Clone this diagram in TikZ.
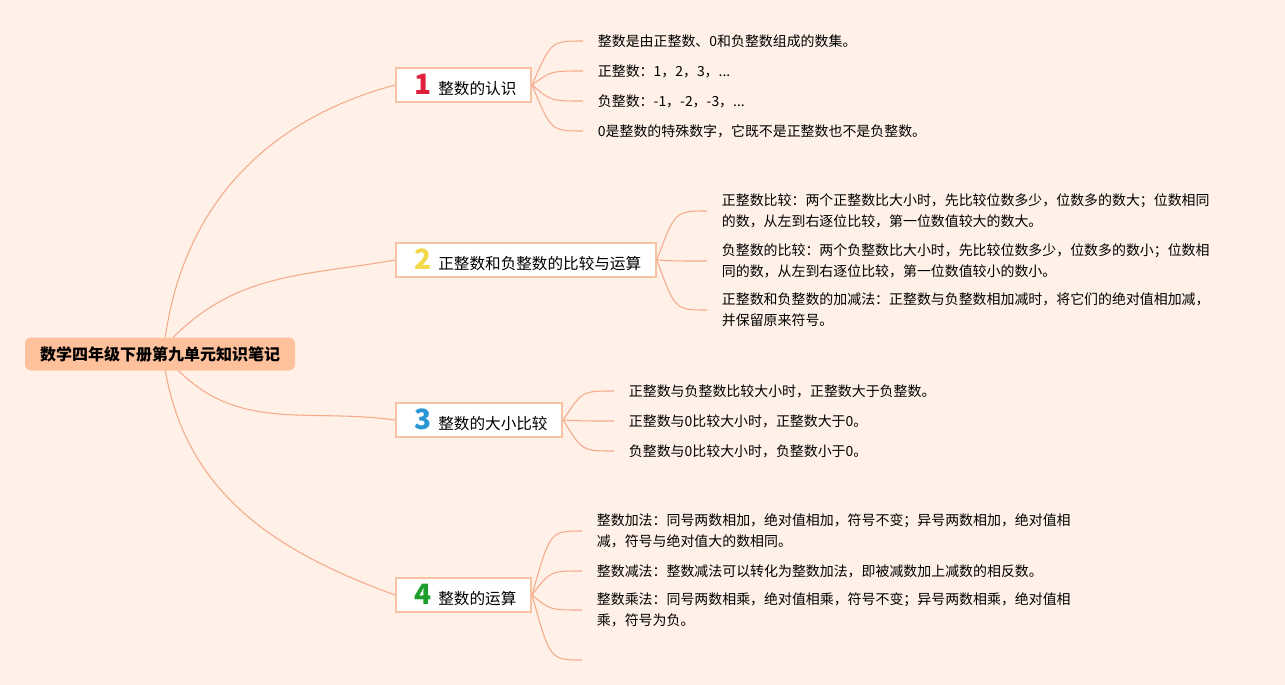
\documentclass[tikz,border=0pt]{standalone}
\usepackage{fontspec}
\setmainfont{Noto Sans CJK SC}
\usepackage{xcolor}
\usetikzlibrary{positioning,calc}

\definecolor{bgpeach}{HTML}{FFF1E8}
\definecolor{rootfill}{HTML}{FFC09C}
\definecolor{linkline}{HTML}{F6AA8C}
\definecolor{boxline}{HTML}{F8C3A3}
\definecolor{numred}{HTML}{DE1F3B}
\definecolor{numyellow}{HTML}{F2D84A}
\definecolor{numblue}{HTML}{2A95D5}
\definecolor{numgreen}{HTML}{1E9E2C}

% big coloured number in front of a topic
\newcommand{\topicnum}[2]{\hspace{3pt}{\color{#1}\fontsize{21}{21}\selectfont\bfseries #2}\hspace{5pt}}

\begin{document}
\begin{tikzpicture}[
  x=0.75pt, y=-0.75pt,
  root/.style={rectangle, rounded corners=4.5pt, fill=rootfill,
               minimum width=202.5pt, minimum height=24.75pt,
               font=\fontsize{12}{14}\selectfont\bfseries},
  topic/.style={rectangle, draw=boxline, line width=1.5pt, fill=white,
                anchor=west, minimum height=25.5pt, inner xsep=11pt,
                font=\fontsize{11.7}{13}\selectfont},
  note/.style={anchor=west, inner xsep=11pt, inner ysep=1pt, align=left,
               font=\fontsize{10.45}{15.75}\selectfont},
  link/.style={draw=linkline, line width=0.8pt}
]
  \useasboundingbox (0,0) rectangle (1285,685);
  \fill[bgpeach] (0,0) rectangle (1285,685);

  \node[root] (root) at (160,354) {数学四年级下册第九单元知识笔记};

  \node[topic] (b1) at (395,85) {\topicnum{numred}{1}整数的认识};
  \node[topic] (b2) at (395,260) {\topicnum{numyellow}{2}正整数和负整数的比较与运算};
  \node[topic] (b3) at (395,420) {\topicnum{numblue}{3}整数的大小比较};
  \node[topic] (b4) at (395,595) {\topicnum{numgreen}{4}整数的运算};

  % branch 1
  \node[note] (n11) at (583,41) {整数是由正整数、0和负整数组成的数集。};
  \node[note] (n12) at (583,71) {正整数：1，2，3，...};
  \node[note] (n13) at (583,101) {负整数：-1，-2，-3，...};
  \node[note] (n14) at (583,131) {0是整数的特殊数字，它既不是正整数也不是负整数。};

  % branch 2
  \node[note] (n21) at (707,211) {正整数比较：两个正整数比大小时，先比较位数多少，位数多的数大；位数相同\\的数，从左到右逐位比较，第一位数值较大的数大。};
  \node[note] (n22) at (707,261) {负整数的比较：两个负整数比大小时，先比较位数多少，位数多的数小；位数相\\同的数，从左到右逐位比较，第一位数值较小的数小。};
  \node[note] (n23) at (707,310) {正整数和负整数的加减法：正整数与负整数相加减时，将它们的绝对值相加减，\\并保留原来符号。};

  % branch 3
  \node[note] (n31) at (614,391) {正整数与负整数比较大小时，正整数大于负整数。};
  \node[note] (n32) at (614,421) {正整数与0比较大小时，正整数大于0。};
  \node[note] (n33) at (614,451) {负整数与0比较大小时，负整数小于0。};

  % branch 4
  \node[note] (n41) at (582,531) {整数加法：同号两数相加，绝对值相加，符号不变；异号两数相加，绝对值相\\减，符号与绝对值大的数相同。};
  \node[note] (n42) at (582,571) {整数减法：整数减法可以转化为整数加法，即被减数加上减数的相反数。};
  \node[note] (n43) at (582,610) {整数乘法：同号两数相乘，绝对值相乘，符号不变；异号两数相乘，绝对值相\\乘，符号为负。};
  \coordinate (n44) at (582,660);

  % root to topics
  \draw[link] ([xshift=4pt]root.north) to[out=82,in=195] (b1.west);
  \draw[link] ([xshift=10pt]root.north) to[out=45,in=190] (b2.west);
  \draw[link] ([xshift=14pt]root.south) to[out=-45,in=172] (b3.west);
  \draw[link] ([xshift=4pt]root.south) to[out=-80,in=160] (b4.west);

  % topics to notes
  \foreach \leaf in {n11,n12,n13,n14}
    \draw[link] (b1.east) .. controls ($(\leaf.west)+(-32,0)$) .. (\leaf.west);
  \foreach \leaf in {n21,n22,n23}
    \draw[link] (b2.east) .. controls ($(\leaf.west)+(-32,0)$) .. (\leaf.west);
  \foreach \leaf in {n31,n32,n33}
    \draw[link] (b3.east) .. controls ($(\leaf.west)+(-32,0)$) .. (\leaf.west);
  \foreach \leaf in {n41,n42,n43}
    \draw[link] (b4.east) .. controls ($(\leaf.west)+(-32,0)$) .. (\leaf.west);
  \draw[link] (b4.east) .. controls ($(n44)+(-32,0)$) .. (n44);
\end{tikzpicture}
\end{document}
